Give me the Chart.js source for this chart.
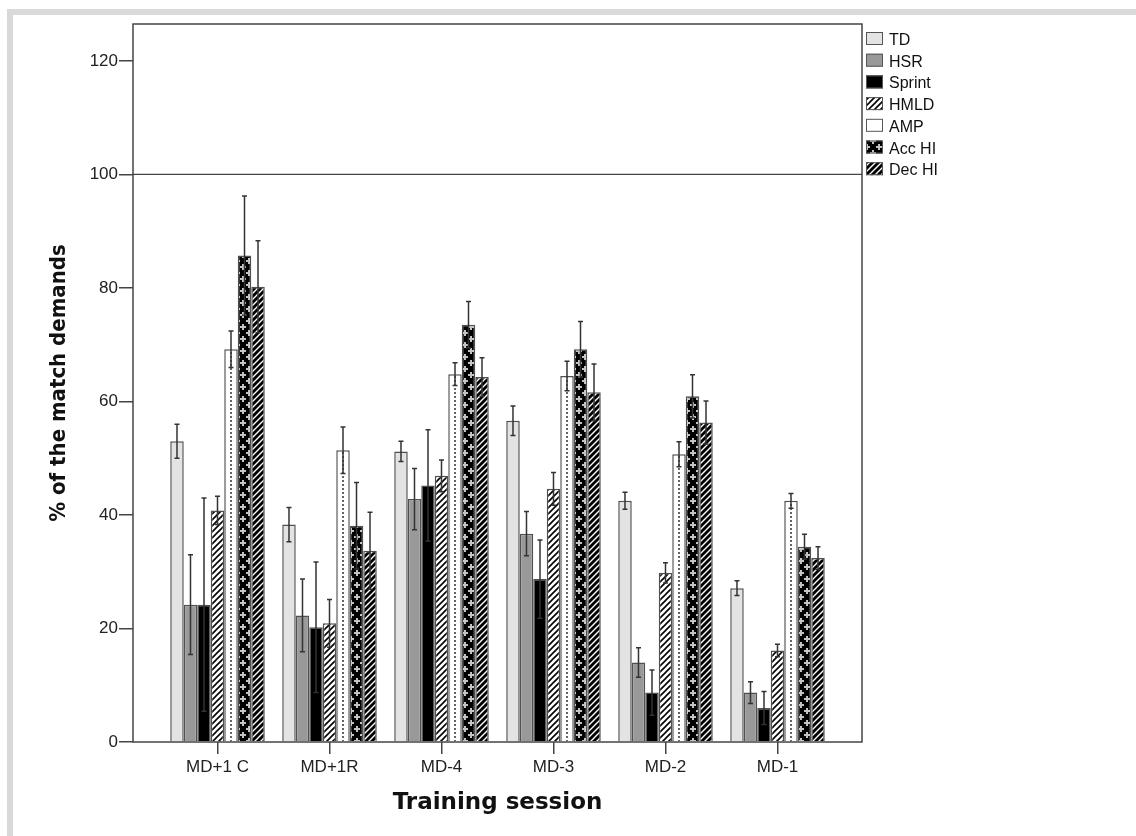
<!DOCTYPE html>
<html>
<head>
<meta charset="utf-8">
<script src="https://cdn.jsdelivr.net/npm/chart.js@4.4.1/dist/chart.umd.min.js"></script>
<style>
  body { margin: 0; background: #fff; }
  #frame { position: absolute; left: 7px; top: 9px; right: 0; bottom: 0; border-left: 6px solid #d9d9d9; border-top: 6px solid #d9d9d9; }
  #wrap { position: absolute; left: 0; top: 0; width: 1136px; height: 836px; }
</style>
</head>
<body>
<div id="frame"></div>
<div id="wrap"><canvas id="myChart" width="1136" height="836"></canvas></div>
<script>
// data
const sessions = ['MD+1 C', 'MD+1R', 'MD-4', 'MD-3', 'MD-2', 'MD-1'];
const yTicks = [0, 20, 40, 60, 80, 100, 120];

const td = [53.0, 38.3, 51.2, 56.6, 42.5, 27.1];
const tdErr = [3.0, 3.0, 1.8, 2.6, 1.5, 1.3];
const hsr = [24.2, 22.3, 42.8, 36.7, 14.0, 8.7];
const hsrErr = [8.8, 6.4, 5.4, 3.9, 2.6, 1.9];
const sprint = [24.2, 20.2, 45.2, 28.7, 8.7, 6.0];
const sprintErr = [18.8, 11.5, 9.8, 6.9, 4.0, 2.9];
const hmld = [40.8, 20.9, 46.9, 44.6, 29.8, 16.1];
const hmldErr = [2.5, 4.2, 2.8, 2.9, 1.8, 1.1];
const amp = [69.2, 51.4, 64.8, 64.5, 50.7, 42.5];
const ampErr = [3.2, 4.1, 2.0, 2.6, 2.2, 1.3];
const accHi = [85.7, 38.1, 73.5, 69.2, 60.9, 34.4];
const accHiErr = [10.5, 7.6, 4.1, 4.9, 3.8, 2.2];
const decHi = [80.2, 33.7, 64.3, 61.6, 56.3, 32.4];
const decHiErr = [8.1, 6.8, 3.4, 5.0, 3.8, 2.0];

const refLine = 100;

// fill patterns
function makePattern(w, h, draw) {
    const c = document.createElement('canvas');
    c.width = w; c.height = h;
    const g = c.getContext('2d');
    draw(g, w, h);
    return g.createPattern(c, 'repeat');
}
function diagonal(bg, fg, lw) {
    return makePattern(6, 6, (g) => {
        g.fillStyle = bg; g.fillRect(0, 0, 6, 6);
        g.strokeStyle = fg; g.lineWidth = lw;
        g.beginPath();
        g.moveTo(-1, 7); g.lineTo(7, -1);
        g.moveTo(-1, 1); g.lineTo(1, -1);
        g.moveTo(5, 7); g.lineTo(7, 5);
        g.stroke();
    });
}
const hatchPattern = diagonal('#ffffff', '#000000', 1.6);
const decPattern = diagonal('#000000', '#ffffff', 1.4);
const crossPattern = makePattern(12, 12, (g) => {
    g.fillStyle = '#000'; g.fillRect(0, 0, 12, 12);
    g.fillStyle = '#c4c4c4';
    const cross = (cx, cy) => { g.fillRect(cx - 1, cy - 3, 2, 6); g.fillRect(cx - 3, cy - 1, 6, 2); };
    cross(3, 3); cross(9, 9);
});
const dotPattern = makePattern(112, 4, (g) => {
    g.fillStyle = '#fff'; g.fillRect(0, 0, 112, 4);
    g.fillStyle = '#666'; g.fillRect(6, 0, 2, 2);
});

const series = [
    { label: 'TD', values: td, err: tdErr, fill: '#e3e3e3' },
    { label: 'HSR', values: hsr, err: hsrErr, fill: '#999999' },
    { label: 'Sprint', values: sprint, err: sprintErr, fill: '#000000' },
    { label: 'HMLD', values: hmld, err: hmldErr, fill: hatchPattern },
    { label: 'AMP', values: amp, err: ampErr, fill: dotPattern },
    { label: 'Acc HI', values: accHi, err: accHiErr, fill: crossPattern },
    { label: 'Dec HI', values: decHi, err: decHiErr, fill: decPattern }
];

// frame + 100% line
const framePlugin = {
    id: 'frame',
    afterDatasetsDraw(chart) {
        const { ctx, chartArea: a, scales } = chart;
        const y100 = scales.y.getPixelForValue(refLine);
        ctx.save();
        ctx.strokeStyle = '#444';
        ctx.lineWidth = 1.5;
        ctx.strokeRect(a.left, a.top, a.right - a.left, a.bottom - a.top);
        ctx.lineWidth = 1.2;
        ctx.beginPath();
        ctx.moveTo(a.left, y100); ctx.lineTo(a.right, y100);
        ctx.stroke();
        ctx.restore();
    }
};

// error bars
const errorPlugin = {
    id: 'errorBars',
    afterDatasetsDraw(chart) {
        const { ctx, scales } = chart;
        ctx.save();
        ctx.strokeStyle = '#333';
        ctx.lineWidth = 1.5;
        series.forEach((s, i) => {
            chart.getDatasetMeta(i).data.forEach((bar, j) => {
                const hi = scales.y.getPixelForValue(s.values[j] + s.err[j]);
                const lo = scales.y.getPixelForValue(s.values[j] - s.err[j]);
                ctx.beginPath();
                ctx.moveTo(bar.x, hi); ctx.lineTo(bar.x, lo);
                ctx.moveTo(bar.x - 2.5, hi); ctx.lineTo(bar.x + 2.5, hi);
                ctx.moveTo(bar.x - 2.5, lo); ctx.lineTo(bar.x + 2.5, lo);
                ctx.stroke();
            });
        });
        ctx.restore();
    }
};

// legend at the right of the plot
const legendPlugin = {
    id: 'sideLegend',
    afterDraw(chart) {
        const { ctx, chartArea: a } = chart;
        const x = a.right + 4;
        ctx.save();
        ctx.font = '16px "Liberation Sans", Arial, sans-serif';
        ctx.textBaseline = 'alphabetic';
        series.forEach((s, i) => {
            const top = 32 + i * 21.7;
            ctx.fillStyle = s.fill;
            ctx.fillRect(x, top, 17, 13);
            ctx.strokeStyle = '#555';
            ctx.lineWidth = 1;
            ctx.strokeRect(x + 0.5, top + 0.5, 16, 12);
            ctx.fillStyle = '#111';
            ctx.fillText(s.label, x + 23, top + 13);
        });
        ctx.restore();
    }
};

const ctx = document.getElementById('myChart').getContext('2d');
const tickFont = { family: '"Liberation Sans", Arial, sans-serif', size: 17 };

const chart = new Chart(ctx, {
    type: 'bar',
    data: {
        datasets: series.map(s => ({
            label: s.label,
            data: s.values.map((v, i) => ({ x: i, y: v })),
            backgroundColor: s.fill,
            borderColor: '#505050',
            borderWidth: 1.5,
            categoryPercentage: 0.844,
            barPercentage: 1
        }))
    },
    options: {
        responsive: false,
        animation: false,
        devicePixelRatio: 1,
        layout: { padding: { top: 24, right: 274, left: 0, bottom: 0 } },
        plugins: {
            legend: { display: false },
            tooltip: { enabled: false }
        },
        scales: {
            x: {
                type: 'linear',
                min: -0.7545,
                max: 5.7545,
                offset: false,
                afterBuildTicks: (s) => { s.ticks = sessions.map((_, i) => ({ value: i })); },
                afterFit: (s) => { s.height = 94; },
                grid: { offset: false, drawOnChartArea: false, tickLength: 12, color: '#444', lineWidth: 1.5 },
                border: { display: false },
                ticks: {
                    font: tickFont, color: '#222', padding: 3,
                    maxRotation: 0, autoSkip: false,
                    callback: (v) => sessions[v]
                },
                title: {
                    display: true,
                    text: 'Training session',
                    color: '#111',
                    font: { family: '"DejaVu Sans", Verdana, sans-serif', size: 23, weight: 'bold' },
                    padding: { top: 0, bottom: 19 }
                }
            },
            y: {
                min: 0,
                max: 126.5,
                afterBuildTicks: (s) => { s.ticks = yTicks.map(v => ({ value: v })); },
                afterFit: (s) => { s.width = 133; },
                grid: { drawOnChartArea: false, tickLength: 14, color: '#444', lineWidth: 1.5 },
                border: { display: false },
                ticks: { font: tickFont, color: '#222', padding: 1 },
                title: {
                    display: true,
                    text: '% of the match demands',
                    color: '#111',
                    font: { family: '"DejaVu Sans Condensed", "DejaVu Sans", sans-serif', size: 22, weight: 'bold' },
                    padding: { top: 46, bottom: 0 }
                }
            }
        }
    },
    plugins: [framePlugin, errorPlugin, legendPlugin]
});
</script>
</body>
</html>
